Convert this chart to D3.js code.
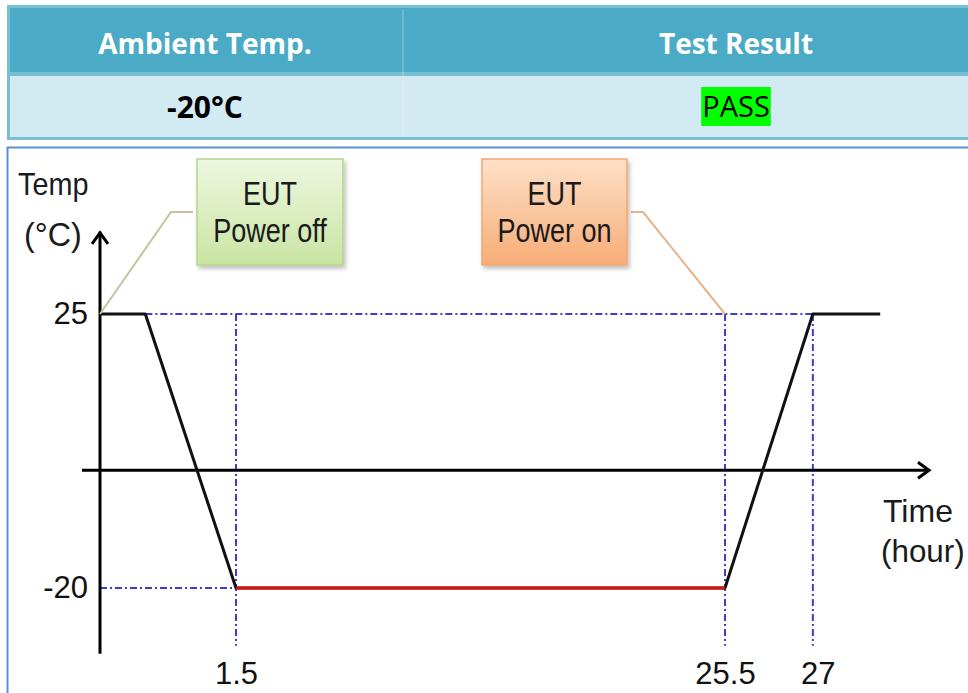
<!DOCTYPE html>
<html>
<head>
<meta charset="utf-8">
<script src="https://cdn.jsdelivr.net/npm/d3@7"></script>
<style>
  body { margin: 0; background: #fff; }
  svg { display: block; }
</style>
</head>
<body>
<script>
// table contents
var tableHeaders = ["Ambient Temp.", "Test Result"];
var tableRow = ["-20°C", "PASS"];

// temperature profile (schematic)
var profileTime = [0, 0.5, 1.5, 25.5, 27, 28.15];
var profileTemp = [25, 25, -20, -20, 25, 25];
var soakTime = [1.5, 25.5];
var soakTemp = [-20, -20];

// tick labels
var yTicks = [25, -20];
var xTicks = [1.5, 25.5, 27];

// callouts
var callouts = [
    { lines: ["EUT", "Power off"], time: 0, temp: 25, kind: "off" },
    { lines: ["EUT", "Power on"], time: 25.5, temp: 25, kind: "on" }
];

var width = 968, height = 693;

var svg = d3.select("body").append("svg")
    .attr("width", width)
    .attr("height", height);

var defs = svg.append("defs");

var gOff = defs.append("linearGradient").attr("id", "gradOff")
    .attr("x1", 0).attr("y1", 0).attr("x2", 0).attr("y2", 1);
gOff.append("stop").attr("offset", "0%").attr("stop-color", "#eef7e0");
gOff.append("stop").attr("offset", "100%").attr("stop-color", "#c9e4a2");

var gOn = defs.append("linearGradient").attr("id", "gradOn")
    .attr("x1", 0).attr("y1", 0).attr("x2", 0).attr("y2", 1);
gOn.append("stop").attr("offset", "0%").attr("stop-color", "#fde0c8");
gOn.append("stop").attr("offset", "100%").attr("stop-color", "#f7ad76");

var shadow = defs.append("filter").attr("id", "shadow")
    .attr("x", "-20%").attr("y", "-20%").attr("width", "140%").attr("height", "140%");
shadow.append("feDropShadow")
    .attr("dx", 2).attr("dy", 3).attr("stdDeviation", 2)
    .attr("flood-color", "#000").attr("flood-opacity", 0.25);

// squeezed text, there is no narrow font installed
function narrowText(parent, str, tx, ty, size, sx, anchor) {
    return parent.append("text")
        .attr("transform", "translate(" + tx + "," + ty + ") scale(" + sx + ",1)")
        .attr("text-anchor", anchor || "start")
        .attr("font-family", "'Liberation Sans', Arial, sans-serif")
        .attr("font-size", size)
        .attr("fill", "#1a1a1a")
        .text(str);
}

// ---- table ----
var tableX = 7, tableW = 1062, colSplit = 403;
var headY = 7, headH = 66, rowY = 75, rowH = 63;
var colCenters = [(tableX + colSplit) / 2, (colSplit + tableX + tableW) / 2];

var table = svg.append("g");

table.append("rect")
    .attr("x", tableX).attr("y", headY)
    .attr("width", tableW).attr("height", headH)
    .attr("fill", "#4babc6");

table.append("rect")
    .attr("x", tableX).attr("y", rowY)
    .attr("width", tableW).attr("height", rowH)
    .attr("fill", "#d2eaf1");

// borders
table.append("rect")
    .attr("x", tableX + 1.5).attr("y", headY - 0.5)
    .attr("width", tableW).attr("height", rowY + rowH - headY + 1)
    .attr("fill", "none")
    .attr("stroke", "#78bfd3")
    .attr("stroke-width", 3);

table.append("line")
    .attr("x1", tableX).attr("x2", tableX + tableW)
    .attr("y1", rowY - 1).attr("y2", rowY - 1)
    .attr("stroke", "#78bfd3").attr("stroke-width", 4);

table.append("line")
    .attr("x1", colSplit).attr("x2", colSplit)
    .attr("y1", headY + 2).attr("y2", rowY + rowH - 2)
    .attr("stroke", "#ffffff").attr("stroke-opacity", 0.35).attr("stroke-width", 1);

table.selectAll("text.head")
    .data(tableHeaders)
    .enter().append("text")
    .attr("class", "head")
    .attr("x", function (d, i) { return colCenters[i]; })
    .attr("y", 54)
    .attr("text-anchor", "middle")
    .attr("font-family", "'Open Sans', sans-serif")
    .attr("font-weight", "bold")
    .attr("font-size", 28)
    .attr("fill", "#ffffff")
    .text(function (d) { return d; });

// highlight behind PASS
var passText = table.append("text")
    .attr("x", colCenters[1]).attr("y", 117)
    .attr("text-anchor", "middle")
    .attr("font-family", "'Open Sans', sans-serif")
    .attr("font-size", 29)
    .attr("fill", "#000")
    .text(tableRow[1]);
var pb = passText.node().getBBox();
table.insert("rect", function () { return passText.node(); })
    .attr("x", pb.x - 1).attr("y", 87)
    .attr("width", pb.width + 2).attr("height", 39)
    .attr("fill", "#00ff00");

table.append("text")
    .attr("x", colCenters[0]).attr("y", 118)
    .attr("text-anchor", "middle")
    .attr("font-family", "'Open Sans', sans-serif")
    .attr("font-weight", "bold")
    .attr("font-size", 30)
    .attr("fill", "#000")
    .text(tableRow[0]);

// ---- chart panel ----
svg.append("rect")
    .attr("x", 7.5).attr("y", 147.5)
    .attr("width", 1000).attr("height", 600)
    .attr("fill", "#fff")
    .attr("stroke", "#5b8fd6")
    .attr("stroke-width", 2);

var x = d3.scaleLinear()
    .domain([0, 1.5, 25.5, 29])
    .range([100, 236, 725, 930]);

var y = d3.scaleLinear()
    .domain([-20, 25])
    .range([588, 314]);

var chart = svg.append("g");
var labelFont = "'Liberation Sans', Arial, sans-serif";

// dash-dot guide lines
var guideColor = "#3d3dd6";
var guideDash = "7,3,2,3";
var guides = [
    { x1: profileTime[1], y1: 25, x2: 27, y2: 25 },
    { x1: 0, y1: -20, x2: 1.5, y2: -20 }
];
xTicks.forEach(function (t) {
    guides.push({ x1: t, y1: 25, x2: t, y2: -29.5 });
});

chart.selectAll("line.guide")
    .data(guides)
    .enter().append("line")
    .attr("class", "guide")
    .attr("x1", function (d) { return x(d.x1); })
    .attr("x2", function (d) { return x(d.x2); })
    .attr("y1", function (d) { return y(d.y1); })
    .attr("y2", function (d) { return y(d.y2); })
    .attr("stroke", guideColor)
    .attr("stroke-width", 2)
    .attr("stroke-dasharray", guideDash);

// axes lines with arrows
var yTop = 38.5, yBottom = -30.8;
chart.append("line")
    .attr("x1", x(0)).attr("x2", x(0))
    .attr("y1", y(yTop)).attr("y2", y(yBottom))
    .attr("stroke", "#000").attr("stroke-width", 3);
chart.append("path")
    .attr("d", "M" + (x(0) - 8) + "," + (y(yTop) + 12) + "L" + x(0) + "," + (y(yTop) + 1) + "L" + (x(0) + 8) + "," + (y(yTop) + 12))
    .attr("fill", "none").attr("stroke", "#000").attr("stroke-width", 3);

var axisY = y(0) + 4;
chart.append("line")
    .attr("x1", 82).attr("x2", x(29) - 1)
    .attr("y1", axisY).attr("y2", axisY)
    .attr("stroke", "#000").attr("stroke-width", 3);
chart.append("path")
    .attr("d", "M" + (x(29) - 12) + "," + (axisY - 8) + "L" + (x(29) - 1) + "," + axisY + "L" + (x(29) - 12) + "," + (axisY + 8))
    .attr("fill", "none").attr("stroke", "#000").attr("stroke-width", 3);

// profile line
var line = d3.line()
    .x(function (d) { return x(d[0]); })
    .y(function (d) { return y(d[1]); });

chart.append("path")
    .datum(d3.zip(profileTime, profileTemp))
    .attr("d", line)
    .attr("fill", "none")
    .attr("stroke", "#111")
    .attr("stroke-width", 3)
    .attr("stroke-linejoin", "round");

chart.append("path")
    .datum(d3.zip(soakTime, soakTemp))
    .attr("d", line)
    .attr("fill", "none")
    .attr("stroke", "#e01010")
    .attr("stroke-width", 3);

// tick labels via axes
var yAxis = chart.append("g")
    .attr("transform", "translate(" + x(0) + ",0)")
    .call(d3.axisLeft(y).tickValues(yTicks).tickSize(0).tickPadding(12)
        .tickFormat(function (d) { return String(d); }));
yAxis.select(".domain").remove();
yAxis.selectAll("text")
    .attr("font-family", labelFont)
    .attr("font-size", 31)
    .attr("fill", "#111");

var xAxis = chart.append("g")
    .attr("transform", "translate(0,653)")
    .call(d3.axisBottom(x).tickValues(xTicks).tickSize(0).tickPadding(9)
        .tickFormat(function (d) { return String(d); }));
xAxis.select(".domain").remove();
xAxis.selectAll("text")
    .attr("font-family", labelFont)
    .attr("font-size", 31)
    .attr("fill", "#111");
xAxis.selectAll(".tick").filter(function (d) { return d === 27; })
    .select("text").attr("dx", 5);

// axis titles
narrowText(chart, "Temp", 18, 195, 32, 0.9);
narrowText(chart, "(°C)", 24, 246, 34, 0.95);
narrowText(chart, "Time", 883, 522, 32, 1.0);
narrowText(chart, "(hour)", 881, 562, 32, 0.98);

// callouts
var boxes = { off: { x: 197, w: 146, fill: "url(#gradOff)", stroke: "#b4d68a", lead: "#c9c29e" },
              on: { x: 482, w: 145, fill: "url(#gradOn)", stroke: "#f3a772", lead: "#e9b48a" } };
var boxY = 159, boxH = 106, leadY = 212;

callouts.forEach(function (c) {
    var b = boxes[c.kind];
    var px = x(c.time), py = y(c.temp);
    var pts;
    if (c.kind === "off") {
        pts = [[b.x - 4, leadY], [b.x - 26, leadY], [px, py]];
    } else {
        pts = [[b.x + b.w + 4, leadY], [b.x + b.w + 16, leadY], [px, py]];
    }
    chart.append("path")
        .attr("d", d3.line()(pts))
        .attr("fill", "none")
        .attr("stroke", b.lead)
        .attr("stroke-width", 2);

    var g = chart.append("g");
    g.append("rect")
        .attr("x", b.x).attr("y", boxY)
        .attr("width", b.w).attr("height", boxH)
        .attr("fill", b.fill)
        .attr("stroke", b.stroke)
        .attr("stroke-width", 1.5)
        .attr("filter", "url(#shadow)");
    c.lines.forEach(function (d, i) {
        narrowText(g, d, b.x + b.w / 2, 205 + i * 37, 33, 0.82, "middle");
    });
});
</script>
</body>
</html>
